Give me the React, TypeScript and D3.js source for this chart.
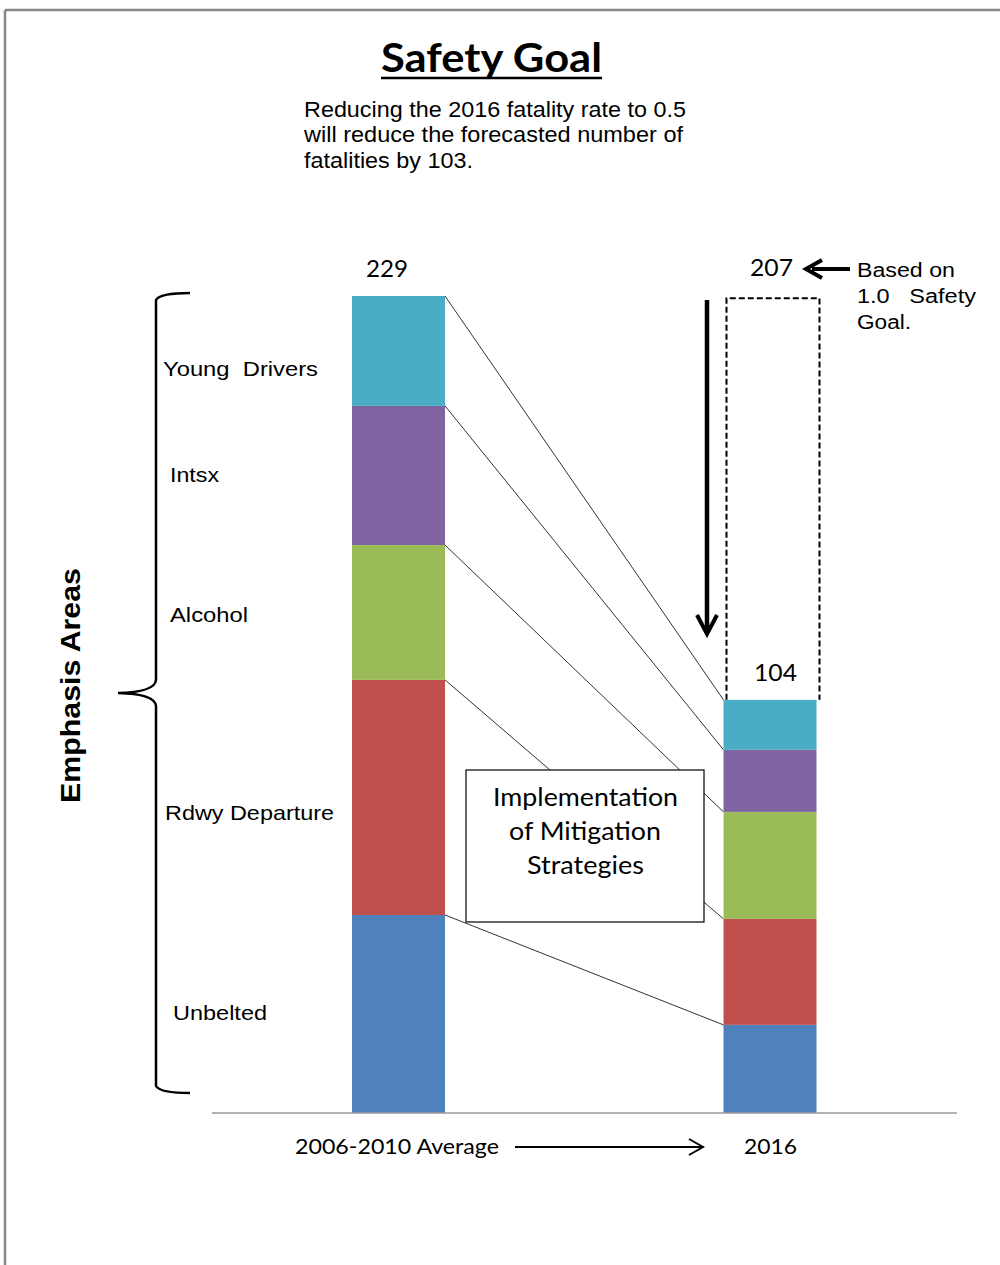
import React from "react";
import * as d3 from "d3";

const categories = ["Unbelted", "Rdwy Departure", "Alcohol", "Intsx", "Young  Drivers"];
const colors = ["#4F81BD", "#C0504D", "#9BBB59", "#8064A2", "#4BACC6"];
const avgValues = [55.5, 65.9, 37.8, 39.0, 30.8];
const y2016Values = [24.7, 29.7, 30.0, 17.4, 14.0];
const goalValue = 228.4;
const periods = ["2006-2010 Average", "2016"];
const totalLabels = ["229", "104"];
const goalLabel = "207";
const labelY = [1020, 820, 622, 482, 376];
const labelX = [173, 165, 170, 170, 163];
const labelW = [94, 169, 78, 49, 155];

const W = 1000;
const H = 1265;

export default function App() {
  const y = d3.scaleLinear().domain([0, 229]).range([1113, 296]);
  const x = d3.scalePoint<string>().domain(periods).range([398.5, 770]);
  const barW = 93;

  const stack = (vals: number[]) => {
    let acc = 0;
    return vals.map((v) => {
      const s = acc;
      acc += v;
      return [s, acc];
    });
  };
  const s1 = stack(avgValues);
  const s2 = stack(y2016Values);
  const x1 = x(periods[0])!;
  const x2 = x(periods[1])!;
  const total2 = d3.sum(y2016Values);

  const font = "Arial, 'Liberation Sans', sans-serif";
  const cal = "Lato, 'Open Sans', sans-serif";
  const la = "spacingAndGlyphs";

  return (
    <svg width={W} height={H} style={{ position: "absolute", left: 0, top: 0, background: "#fff" }}>
      <rect x={0} y={0} width={W} height={H} fill="#fff" />
      {/* page border */}
      <line x1={5} y1={10} x2={W} y2={10} stroke="#888" strokeWidth={2.5} />
      <line x1={5} y1={10} x2={5} y2={H} stroke="#888" strokeWidth={2.5} />

      {/* title */}
      <text x={381} y={72} fontFamily={cal} fontWeight={700} fontSize={40} fill="#000" textLength={221} lengthAdjust={la}>
        Safety Goal
      </text>
      <line x1={381} y1={78} x2={602} y2={78} stroke="#000" strokeWidth={2.5} />
      <g fontFamily={font} fontSize={21.5} fill="#000">
        <text x={304} y={117} textLength={382} lengthAdjust={la}>Reducing the 2016 fatality rate to 0.5</text>
        <text x={304} y={142} textLength={379} lengthAdjust={la}>will reduce the forecasted number of</text>
        <text x={304} y={168} textLength={169} lengthAdjust={la}>fatalities by 103.</text>
      </g>

      {/* connecting lines */}
      {s1.map((d, i) => (
        <line key={"c" + i} x1={x1 + barW / 2} y1={y(d[1])} x2={x2 - barW / 2} y2={y(s2[i][1])} stroke="#333" strokeWidth={1} />
      ))}

      {/* bars */}
      {s1.map((d, i) => (
        <rect key={"a" + i} x={x1 - barW / 2} y={y(d[1])} width={barW} height={y(d[0]) - y(d[1])} fill={colors[i]} />
      ))}
      {s2.map((d, i) => (
        <rect key={"b" + i} x={x2 - barW / 2} y={y(d[1])} width={barW} height={y(d[0]) - y(d[1])} fill={colors[i]} />
      ))}

      {/* dashed goal box */}
      <path
        d={`M${x2 - barW / 2 + 3},${y(total2)} V${y(goalValue)} H${x2 + barW / 2 + 3} V${y(total2)}`}
        fill="none"
        stroke="#000"
        strokeWidth={2}
        strokeDasharray="6,3"
      />

      {/* down arrow */}
      <line x1={707} y1={300} x2={707} y2={630} stroke="#000" strokeWidth={4.5} />
      <path d="M697,615 L707,634 L717,615" fill="none" stroke="#000" strokeWidth={4} strokeLinejoin="miter" />

      {/* baseline */}
      <line x1={212} y1={y(0)} x2={957} y2={y(0)} stroke="#999" strokeWidth={1.5} />

      {/* totals */}
      <text x={366} y={277} fontFamily={cal} fontSize={23} fill="#000" textLength={42} lengthAdjust={la}>{totalLabels[0]}</text>
      <text x={754} y={681} fontFamily={cal} fontSize={23} fill="#000" textLength={43} lengthAdjust={la}>{totalLabels[1]}</text>
      <text x={750} y={276} fontFamily={cal} fontSize={23} fill="#000" textLength={43} lengthAdjust={la}>{goalLabel}</text>

      {/* left arrow to 207 */}
      <line x1={850} y1={269} x2={812} y2={269} stroke="#000" strokeWidth={4} />
      <path d="M822,260 L806,269 L822,278" fill="none" stroke="#000" strokeWidth={4} />
      <g fontFamily={font} fontSize={20} fill="#000">
        <text x={857} y={277} textLength={98} lengthAdjust={la}>Based on</text>
        <text x={857} y={303} style={{ whiteSpace: "pre" }} textLength={119} lengthAdjust={la}>{"1.0   Safety"}</text>
        <text x={857} y={329} textLength={54} lengthAdjust={la}>Goal.</text>
      </g>

      {/* text box */}
      <rect x={466} y={770} width={238} height={152} fill="#fff" stroke="#000" strokeWidth={1.2} />
      <g fontFamily={cal} fontSize={25} fill="#000">
        <text x={493} y={806} textLength={185} lengthAdjust={la}>Implementation</text>
        <text x={509} y={840} textLength={152} lengthAdjust={la}>of Mitigation</text>
        <text x={527} y={874} textLength={117} lengthAdjust={la}>Strategies</text>
      </g>

      {/* bracket */}
      <path
        d="M190,293 Q160,293 156,300 L156,680 Q155,692 118,693 Q155,694 156,706 L156,1086 Q160,1093 190,1093"
        fill="none"
        stroke="#000"
        strokeWidth={2.5}
      />
      <text
        transform="translate(80,803) rotate(-90)"
        fontFamily={font}
        fontWeight={700}
        fontSize={28}
        fill="#000"
        textLength={235}
        lengthAdjust={la}
      >
        Emphasis Areas
      </text>

      {/* category labels */}
      <g fontFamily={font} fontSize={21} fill="#000">
        {categories.map((c, i) => (
          <text key={c} x={labelX[i]} y={labelY[i]} style={{ whiteSpace: "pre" }} textLength={labelW[i]} lengthAdjust={la}>{c}</text>
        ))}
      </g>

      {/* period labels */}
      <g fontFamily={cal} fontSize={21} fill="#000">
        <text x={295} y={1154} textLength={204} lengthAdjust={la}>{periods[0]}</text>
        <text x={744} y={1154} textLength={53} lengthAdjust={la}>{periods[1]}</text>
      </g>
      <line x1={515} y1={1147} x2={702} y2={1147} stroke="#000" strokeWidth={2} />
      <path d="M689,1139 L703,1147 L689,1155" fill="none" stroke="#000" strokeWidth={2} />
    </svg>
  );
}
